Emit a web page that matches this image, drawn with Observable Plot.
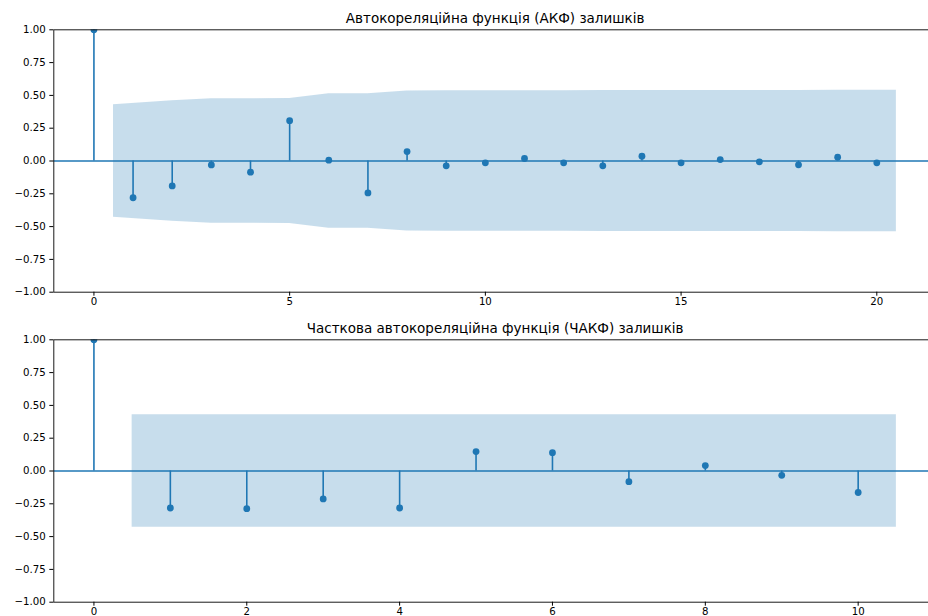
<!DOCTYPE html>
<html><head><meta charset="utf-8">
<script src="https://cdn.jsdelivr.net/npm/d3@7"></script>
<script src="https://cdn.jsdelivr.net/npm/@observablehq/plot@0.6"></script>
<style>
html,body{margin:0;padding:0;background:#fff;overflow:hidden;}
#wrap{width:928px;height:616px;overflow:hidden;}
#wrap svg{display:block;max-width:none !important;}
</style></head><body><div id="wrap"></div>
<script>
// ---- data ----
const acfTitle = "Автокореляційна функція (АКФ) залишків";
const pacfTitle = "Часткова автокореляційна функція (ЧАКФ) залишків";
const acfLags = [0,1,2,3,4,5,6,7,8,9,10,11,12,13,14,15,16,17,18,19,20];
const acfValues = [1, -0.28, -0.19, -0.03, -0.085, 0.307, 0.006, -0.243, 0.072, -0.037, -0.014, 0.019, -0.014, -0.037, 0.037, -0.014, 0.011, -0.006, -0.029, 0.029, -0.014];
// confidence half-width for lags 1..20
const acfBand = [0.429, 0.46, 0.474, 0.475, 0.477, 0.512, 0.512, 0.533, 0.535, 0.535, 0.536, 0.536, 0.537, 0.537, 0.538, 0.538, 0.538, 0.538, 0.539, 0.539];
const pacfLags = [0,1,2,3,4,5,6,7,8,9,10];
const pacfValues = [1, -0.282, -0.287, -0.213, -0.282, 0.148, 0.14, -0.081, 0.041, -0.033, -0.164];
// confidence half-width for lags 1..10
const pacfBand = [0.428, 0.428, 0.428, 0.428, 0.428, 0.428, 0.428, 0.428, 0.428, 0.428];
const yTicks = [-1, -0.75, -0.5, -0.25, 0, 0.25, 0.5, 0.75, 1];
const acfXTicks = [0, 5, 10, 15, 20];
const pacfXTicks = [0, 2, 4, 6, 8, 10];
const acfDomain = [-1.025, 21.525];
const pacfDomain = [-0.525, 11.025];

const C0 = "#1f77b4";

function panel({title, lags, values, band, domain, xTicks}) {
  const pts = lags.map((l, i) => ({lag: l, value: values[i]}));
  const bandLags = lags.slice(1);
  const bandPts = band.map((b, i) => ({
    x: i === 0 ? bandLags[i] - 0.5 : (i === band.length - 1 ? bandLags[i] + 0.5 : bandLags[i]),
    lo: -b, hi: b
  }));
  return Plot.plot({
    width: 936, height: 310,
    marginLeft: 53.3, marginRight: 0, marginTop: 29.3, marginBottom: 18.3,
    style: {fontFamily: "'DejaVu Sans', sans-serif", fontSize: "10.2px", color: "#000", background: "#fff", overflow: "visible", maxWidth: "none"},
    x: {domain, ticks: xTicks},
    y: {domain: [-1, 1]},
    marks: [
      Plot.ruleX(pts, {x: "lag", y1: 0, y2: "value", stroke: C0, strokeWidth: 1.6}),
      Plot.areaY(bandPts, {x: "x", y1: "lo", y2: "hi", fill: C0, fillOpacity: 0.25}),
      Plot.ruleY([0], {stroke: C0, strokeWidth: 1.3}),
      Plot.dot(pts, {x: "lag", y: "value", r: 3.4, fill: C0, stroke: "none", clip: true}),
      Plot.frame({stroke: "#1a1a1a", strokeWidth: 1}),
      Plot.axisY({ticks: yTicks, tickFormat: d3.format(".2f"), tickSize: 4, tickPadding: 4, label: null}),
      Plot.axisX({ticks: xTicks, tickSize: 4, tickPadding: 2, label: null}),
      Plot.text([title], {frameAnchor: "top", lineAnchor: "bottom", dy: -6.6, fontSize: 13.5, fill: "#000"})
    ]
  });
}

const wrap = document.getElementById("wrap");
wrap.append(panel({title: acfTitle, lags: acfLags, values: acfValues, band: acfBand, domain: acfDomain, xTicks: acfXTicks}));
wrap.append(panel({title: pacfTitle, lags: pacfLags, values: pacfValues, band: pacfBand, domain: pacfDomain, xTicks: pacfXTicks}));
</script>
</body></html>
